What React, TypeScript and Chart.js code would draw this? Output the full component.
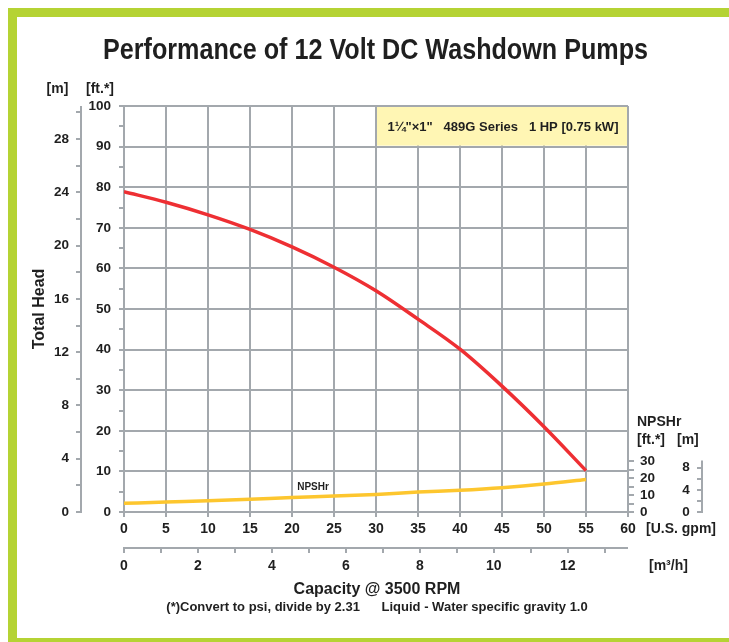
import { useEffect, useRef } from 'react';
import { Chart, registerables } from 'chart.js';
Chart.register(...registerables);

// ---- data ----
const GPM = [0, 5, 10, 15, 20, 25, 30, 35, 40, 45, 50, 55];
const HEAD_FT = [78.9, 76.3, 73.2, 69.6, 65.3, 60.3, 54.5, 47.5, 40.1, 31.0, 21.0, 10.2];
const NPSHR_FT = [5.1, 5.9, 6.6, 7.5, 8.6, 9.4, 10.4, 11.8, 12.9, 14.4, 16.5, 19.2];

const GPM_TICKS = [0, 5, 10, 15, 20, 25, 30, 35, 40, 45, 50, 55, 60];
const FT_TICKS = [0, 10, 20, 30, 40, 50, 60, 70, 80, 90, 100];
const M_TICKS = [0, 4, 8, 12, 16, 20, 24, 28];
const M3H_TICKS = [0, 2, 4, 6, 8, 10, 12];
const NPSH_FT_TICKS = [0, 10, 20, 30];
const NPSH_M_TICKS = [0, 4, 8];

const TITLE = 'Performance of 12 Volt DC Washdown Pumps';
const BOX_TEXT = '1\u00BC"\u00D71"   489G Series   1 HP [0.75 kW]';
const Y_TITLE = 'Total Head';
const X_TITLE = 'Capacity @ 3500 RPM';
const FOOTNOTE = '(*)Convert to psi, divide by 2.31      Liquid - Water specific gravity 1.0';

const FT_PER_M = 3.28084;
const M3H_PER_GPM = 0.2271247;
const FT_MAX = 100;
const GPM_MAX = 60;
const NPSH_FT_MAX = 240;

const W = 729;
const H = 642;
const GREEN = '#b5d334';
const GRID = '#a3a8ad';
const TXT = '#1f1f1f';
const FONT = '"Liberation Sans", Arial, Helvetica, sans-serif';

const decor = {
  id: 'decor',
  beforeDraw(chart: any) {
    const ctx = chart.ctx;
    ctx.save();
    ctx.fillStyle = '#ffffff';
    ctx.fillRect(0, 0, W, H);
    ctx.fillStyle = GREEN;
    ctx.fillRect(8, 8, W - 8, 9);
    ctx.fillRect(8, 8, 9, 630);
    ctx.fillRect(8, 638, W - 8, 4);
    ctx.restore();
  },
  beforeDatasetsDraw(chart: any) {
    const ctx = chart.ctx;
    const { x, y } = chart.scales;
    const l = x.getPixelForValue(30) + 1;
    const r = x.getPixelForValue(60) - 1;
    const t = y.getPixelForValue(100) + 1;
    const b = y.getPixelForValue(90) - 1;
    ctx.save();
    ctx.fillStyle = '#fff6b4';
    ctx.fillRect(l, t, r - l, b - t);
    ctx.fillStyle = TXT;
    ctx.font = `bold 13px ${FONT}`;
    ctx.textAlign = 'center';
    ctx.textBaseline = 'middle';
    ctx.fillText(BOX_TEXT, (l + r) / 2 + 1, (t + b) / 2 + 1);
    ctx.restore();
  },
  afterDraw(chart: any) {
    const ctx = chart.ctx;
    const { x, y, ym, x2, yN, yNm } = chart.scales;
    const left = chart.chartArea.left;
    const bottom = chart.chartArea.bottom;
    const right = chart.chartArea.right;
    ctx.save();
    ctx.strokeStyle = GRID;
    ctx.lineWidth = 2;
    const line = (x1: number, y1: number, x3: number, y3: number) => {
      ctx.beginPath();
      ctx.moveTo(x1, y1);
      ctx.lineTo(x3, y3);
      ctx.stroke();
    };
    // left ft ticks (every 5)
    for (let v = 0; v <= FT_MAX; v += 5) {
      const py = Math.round(y.getPixelForValue(v));
      line(left - 5, py, left - 1, py);
    }
    // m axis
    const mx = 81;
    line(mx, ym.getPixelForValue(0) + 1, mx, ym.getPixelForValue(FT_MAX / FT_PER_M));
    for (let v = 0; v <= 30; v += 2) {
      const py = Math.round(ym.getPixelForValue(v));
      line(mx - 5, py, mx, py);
    }
    // bottom gpm ticks
    for (let v = 0; v <= GPM_MAX; v += 5) {
      const px = Math.round(x.getPixelForValue(v));
      line(px, bottom, px, bottom + 5);
    }
    // m3/h axis
    const ly = 548;
    line(x2.getPixelForValue(0) - 1, ly, x2.getPixelForValue(GPM_MAX * M3H_PER_GPM), ly);
    for (let v = 0; v <= 13; v += 1) {
      const px = Math.round(x2.getPixelForValue(v));
      line(px, ly, px, ly + 5);
    }
    // NPSHr ft ticks
    for (let v = 0; v <= 30; v += 5) {
      const py = Math.round(yN.getPixelForValue(v));
      line(right, py, right + 6, py);
    }
    // NPSHr m axis
    const nx = 702;
    line(nx, yNm.getPixelForValue(0) + 1, nx, yNm.getPixelForValue(30.5 / FT_PER_M));
    for (let v = 0; v <= 8; v += 2) {
      const py = Math.round(yNm.getPixelForValue(v));
      line(nx - 5, py, nx, py);
    }

    // ---- text ----
    ctx.fillStyle = TXT;
    ctx.textBaseline = 'middle';
    ctx.font = `bold 13.5px ${FONT}`;
    ctx.textAlign = 'right';
    FT_TICKS.forEach((v) => ctx.fillText(String(v), 111, y.getPixelForValue(v)));
    M_TICKS.forEach((v) => ctx.fillText(String(v), 69, ym.getPixelForValue(v)));
    ctx.textAlign = 'left';
    NPSH_FT_TICKS.forEach((v) => ctx.fillText(String(v), 640, yN.getPixelForValue(v)));
    ctx.textAlign = 'center';
    NPSH_M_TICKS.forEach((v) => ctx.fillText(String(v), 686, yNm.getPixelForValue(v)));

    ctx.font = `bold 14px ${FONT}`;
    GPM_TICKS.forEach((v) => ctx.fillText(String(v), x.getPixelForValue(v), 529));
    M3H_TICKS.forEach((v) => ctx.fillText(String(v), x2.getPixelForValue(v), 566));
    ctx.textAlign = 'left';
    ctx.fillText('[U.S. gpm]', 646, 529);
    ctx.fillText('[m\u00B3/h]', 649, 566);

    // unit headers
    ctx.font = `bold 14px ${FONT}`;
    ctx.textAlign = 'center';
    ctx.fillText('[m]', 57.5, 89);
    ctx.fillText('[ft.*]', 100, 89);
    ctx.textAlign = 'left';
    ctx.fillText('NPSHr', 637, 422);
    ctx.fillText('[ft.*]', 637, 440);
    ctx.fillText('[m]', 677, 440);

    // NPSHr curve label
    ctx.font = `bold 10px ${FONT}`;
    ctx.textAlign = 'center';
    ctx.fillText('NPSHr', x.getPixelForValue(22.5), y.getPixelForValue(6.2));

    // axis titles
    ctx.font = `bold 16px ${FONT}`;
    ctx.fillText(X_TITLE, 377, 590);
    ctx.save();
    ctx.translate(40, 309);
    ctx.rotate(-Math.PI / 2);
    ctx.fillText(Y_TITLE, 0, 0);
    ctx.restore();

    ctx.font = `bold 13px ${FONT}`;
    ctx.fillText(FOOTNOTE, 377, 607);

    // main title (condensed)
    ctx.font = `bold 29px ${FONT}`;
    const tw = ctx.measureText(TITLE).width;
    ctx.save();
    ctx.translate(375.5, 51);
    ctx.scale(545 / tw, 1);
    ctx.fillText(TITLE, 0, 0);
    ctx.restore();

    ctx.restore();
  },
};

export default function App() {
  const ref = useRef<HTMLCanvasElement>(null);
  useEffect(() => {
    if (!ref.current) return;
    const chart = new Chart(ref.current, {
      type: 'line',
      data: {
        datasets: [
          {
            label: 'Total Head',
            data: GPM.map((g, i) => ({ x: g, y: HEAD_FT[i] })),
            borderColor: '#ee2f33',
            borderWidth: 3.5,
            pointRadius: 0,
            cubicInterpolationMode: 'monotone',
            xAxisID: 'x',
            yAxisID: 'y',
          },
          {
            label: 'NPSHr',
            data: GPM.map((g, i) => ({ x: g, y: NPSHR_FT[i] })),
            borderColor: '#fdc62e',
            borderWidth: 3.5,
            pointRadius: 0,
            cubicInterpolationMode: 'monotone',
            xAxisID: 'x',
            yAxisID: 'yN',
          },
        ],
      },
      options: {
        responsive: false,
        animation: false,
        devicePixelRatio: 1,
        layout: { padding: { left: 124, right: W - 628, top: 106, bottom: H - 512 } },
        plugins: { legend: { display: false }, tooltip: { enabled: false }, title: { display: false } },
        scales: {
          x: {
            type: 'linear',
            min: 0,
            max: GPM_MAX,
            ticks: { display: false, stepSize: 5 },
            grid: { color: GRID, lineWidth: 2, drawTicks: false },
            border: { color: GRID, width: 2 },
          },
          y: {
            type: 'linear',
            min: 0,
            max: FT_MAX,
            ticks: { display: false, stepSize: 10 },
            grid: { color: GRID, lineWidth: 2, drawTicks: false },
            border: { color: GRID, width: 2 },
          },
          ym: { type: 'linear', display: false, position: 'left', min: 0, max: FT_MAX / FT_PER_M },
          x2: { type: 'linear', display: false, position: 'bottom', min: 0, max: GPM_MAX * M3H_PER_GPM },
          yN: { type: 'linear', display: false, position: 'right', min: 0, max: NPSH_FT_MAX },
          yNm: { type: 'linear', display: false, position: 'right', min: 0, max: NPSH_FT_MAX / FT_PER_M },
        },
      },
      plugins: [decor],
    } as any);
    return () => chart.destroy();
  }, []);
  return (
    <div style={{ position: 'fixed', left: 0, top: 0, width: W, height: H }}>
      <canvas ref={ref} width={W} height={H} style={{ display: 'block' }} />
    </div>
  );
}
